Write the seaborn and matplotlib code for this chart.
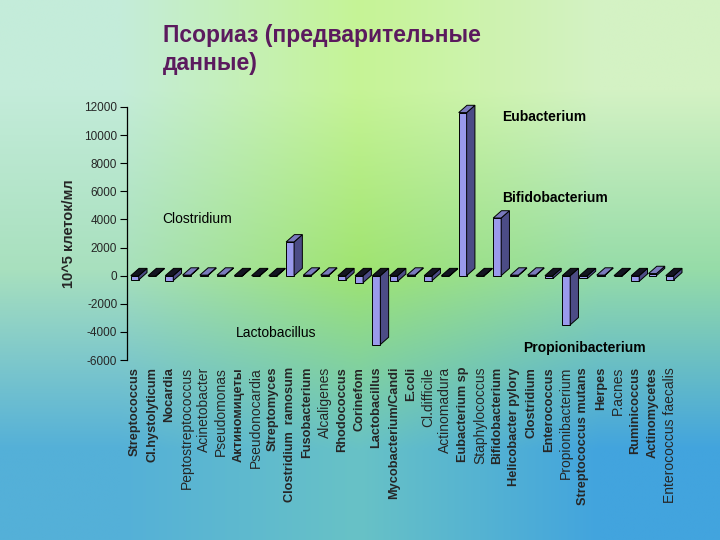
import numpy as np
import pandas as pd
import seaborn as sns
import matplotlib
matplotlib.use("Agg")
import matplotlib.pyplot as plt

# bacteria | value (10^5 cells/ml)
categories = ["Streptococcus", "Cl.hystolyticum", "Nocardia", "Peptostreptococcus",
              "Acinetobacter", "Pseudomonas", "Актиномицеты", "Pseudonocardia",
              "Streptomyces", "Clostridium  ramosum", "Fusobacterium", "Alcaligenes",
              "Rhodococcus", "Corinefom", "Lactobacillus", "Mycobacterium/Candi",
              "E.coli", "Cl.difficile", "Actinomadura", "Eubacterium sp",
              "Staphylococcus", "Bifidobacterium", "Helicobacter pylory", "Clostridium",
              "Enterococcus", "Propionibacterium", "Streptococcus mutans", "Herpes",
              "P.acnes", "Ruminicoccus", "Actinomycetes", "Enterococcus faecalis"]
values = [-300, -40, -350, 40, 40, 40, -40, -40, -40, 2400, 40, 40,
          -300, -500, -4900, -400, 40, -350, -40, 11600, -40, 4100, 40, 40,
          -200, -3500, -200, 40, -40, -400, 150, -300]
y_ticks = [-6000, -4000, -2000, 0, 2000, 4000, 6000, 8000, 10000, 12000]

# callouts: text, x (category index), y (value)
notes = ["Clostridium", "Lactobacillus", "Eubacterium", "Bifidobacterium", "Propionibacterium"]
notes_x = [1.6, 5.85, 21.3, 21.3, 22.5]
notes_y = [4050, -4050, 11300, 5550, -5120]

bold_labels = {"Streptococcus", "Cl.hystolyticum", "Nocardia", "Актиномицеты", "Streptomyces",
               "Clostridium  ramosum", "Fusobacterium", "Rhodococcus", "Corinefom",
               "Lactobacillus", "Mycobacterium/Candi", "E.coli", "Eubacterium sp",
               "Bifidobacterium", "Helicobacter pylory", "Clostridium", "Enterococcus",
               "Streptococcus mutans", "Herpes", "Ruminicoccus", "Actinomycetes"}
bold_notes = {"Eubacterium", "Bifidobacterium", "Propionibacterium"}

sns.set_style("white")
plt.rcParams['font.family'] = ['Liberation Sans', 'DejaVu Sans']

df = pd.DataFrame({"bact": categories, "val": values})

fig = plt.figure(figsize=(7.2, 5.4), dpi=100)

# gradient background
bg = fig.add_axes([0, 0, 1, 1])
grid = np.array([
    [[196, 236, 218], [198, 244, 150], [212, 242, 196]],
    [[168, 224, 190], [160, 228, 112], [150, 220, 168]],
    [[ 84, 176, 216], [104, 194, 198], [ 66, 164, 222]],
]) / 255.0
bg.imshow(grid, extent=[0, 1, 0, 1], aspect="auto", interpolation="bilinear")
bg.set_axis_off()

ax = fig.add_axes([0.1764, 0.3333, 0.767, 0.4686])
ax.patch.set_alpha(0)

front = "#9a9aec"
side = "#4c4c86"
top_light = "#7a7abd"
top_dark = "#141422"
sns.barplot(data=df, x="bact", y="val", color=front, width=0.46,
            edgecolor="black", linewidth=0.7, saturation=1, ax=ax, zorder=3)

# fake 3D depth
dx, dy = 0.48, 520
for p, v in zip(ax.patches, values):
    b = p.get_bbox()
    x0, x1 = b.x0, b.x1
    lo, hi = min(b.y0, b.y1), max(b.y0, b.y1)
    ax.fill([x1, x1 + dx, x1 + dx, x1], [lo, lo + dy, hi + dy, hi],
            color=side, ec="black", lw=0.7, zorder=3, clip_on=False)
    ax.fill([x0, x0 + dx, x1 + dx, x1], [hi, hi + dy, hi + dy, hi],
            color=top_light if v >= 0 else top_dark, ec="black", lw=0.7,
            zorder=3, clip_on=False)

ax.set_xlim(-0.45, len(categories) - 0.45)
ax.set_ylim(-6000, 12000)
ax.set_yticks(y_ticks)
ax.set_yticklabels([str(t) for t in y_ticks], fontsize=8.5)
ax.tick_params(axis="y", direction="out", length=5, width=0.8, color="black", pad=2, left=True)
ax.tick_params(axis="x", length=0, pad=5)
ax.set_xticks(range(len(categories)))
ax.set_xticklabels(categories, rotation=90, fontsize=10, va="top", ha="center")
for lab in ax.get_xticklabels():
    if lab.get_text() in bold_labels:
        lab.set_fontweight("bold")
        lab.set_fontsize(9.2)
ax.set_xlabel("")
ax.set_ylabel("10^5 клеток/мл", fontsize=10.5, fontweight="bold", labelpad=6)
for s in ["top", "right", "bottom"]:
    ax.spines[s].set_visible(False)
ax.spines["left"].set_color("black")
ax.spines["left"].set_linewidth(0.9)

for t, x, y in zip(notes, notes_x, notes_y):
    ax.text(x, y, t, fontsize=10, ha="left", va="center",
            fontweight="bold" if t in bold_notes else "normal", color="black")

fig.text(0.226, 0.955, "Псориаз (предварительные\nданные)", fontsize=16.5,
         fontweight="bold", color="#5b1a5e", ha="left", va="top", linespacing=1.25)

fig.savefig("out.png", dpi=100)
